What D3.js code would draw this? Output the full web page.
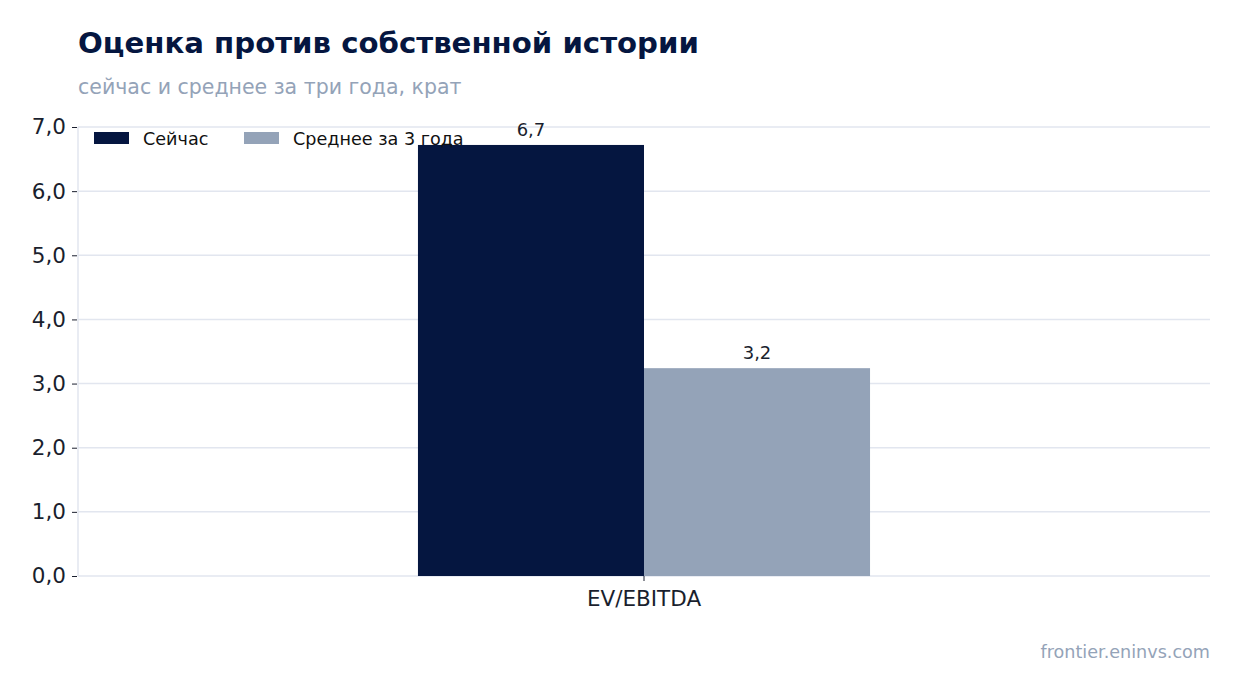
<!DOCTYPE html>
<html><head><meta charset="utf-8">
<script src="https://cdn.jsdelivr.net/npm/d3@7"></script>
<style>html,body{margin:0;padding:0;background:#fff;}svg{display:block;font-family:"DejaVu Sans",sans-serif;}</style>
</head><body>
<script>
const categories = ["EV/EBITDA"];
const seriesNames = ["Сейчас", "Среднее за 3 года"];
const nowValues = [6.72];
const avgValues = [3.24];
const yTicks = [0, 1, 2, 3, 4, 5, 6, 7];
const colors = ["#051640", "#94a3b8"];

const W = 1240, H = 693;
const m = {l: 78, r: 30, t: 127, b: 117};
const svg = d3.select("body").append("svg").attr("width", W).attr("height", H);

const x = d3.scaleBand().domain(categories).range([m.l, W - m.r]).paddingInner(0).paddingOuter(0.752);
const y = d3.scaleLinear().domain([0, 7]).range([H - m.b, m.t]);
const fmt = v => d3.format(".1f")(v).replace(".", ",");

// grid
svg.append("g").selectAll("line").data(yTicks).join("line")
  .attr("x1", m.l).attr("x2", W - m.r).attr("y1", d => y(d)).attr("y2", d => y(d))
  .attr("stroke", "#e2e6ef").attr("stroke-width", 1.5);
// left spine
svg.append("line").attr("x1", m.l).attr("x2", m.l).attr("y1", m.t).attr("y2", H - m.b)
  .attr("stroke", "#e2e6ef").attr("stroke-width", 1.5);

const inner = d3.scaleBand().domain(seriesNames).range([0, x.bandwidth()]);
const data = categories.flatMap((c, i) => [
  {c, s: seriesNames[0], v: nowValues[i], col: colors[0]},
  {c, s: seriesNames[1], v: avgValues[i], col: colors[1]}
]);
svg.append("g").selectAll("rect").data(data).join("rect")
  .attr("x", d => x(d.c) + inner(d.s)).attr("width", inner.bandwidth())
  .attr("y", d => y(d.v)).attr("height", d => y(0) - y(d.v)).attr("fill", d => d.col);
svg.append("g").selectAll("text").data(data).join("text")
  .attr("x", d => x(d.c) + inner(d.s) + inner.bandwidth() / 2).attr("y", d => y(d.v) - 9)
  .attr("text-anchor", "middle").attr("font-size", 18).attr("fill", "#1a1f2e").text(d => fmt(d.v));

// y axis
const ya = svg.append("g").attr("transform", `translate(${m.l - 1},0)`)
  .call(d3.axisLeft(y).tickValues(yTicks).tickFormat(fmt).tickSize(5).tickPadding(6));
ya.select(".domain").remove();
ya.selectAll("line").attr("stroke", "#1a1f2e");
ya.selectAll("text").attr("font-size", 21.5).attr("fill", "#1a1f2e").attr("font-family", "DejaVu Sans");

// x axis
const xa = svg.append("g").attr("transform", `translate(0,${H - m.b})`)
  .call(d3.axisBottom(x).tickSize(5).tickPadding(10));
xa.select(".domain").remove();
xa.selectAll("line").attr("stroke", "#1a1f2e");
xa.selectAll("text").attr("font-size", 21.5).attr("fill", "#1a1f2e").attr("font-family", "DejaVu Sans");

// legend
const lg = svg.append("g");
const lx = [94, 244];
seriesNames.forEach((s, i) => {
  lg.append("rect").attr("x", lx[i]).attr("y", 132).attr("width", 35).attr("height", 12).attr("fill", colors[i]);
  lg.append("text").attr("x", lx[i] + 49).attr("y", 144.5).attr("font-size", 17.6).attr("fill", "#111").text(s);
});

// titles
svg.append("text").attr("x", 78).attr("y", 53).attr("font-size", 29.2).attr("font-weight", "bold")
  .attr("fill", "#051640").text("Оценка против собственной истории");
svg.append("text").attr("x", 78).attr("y", 94).attr("font-size", 20.5)
  .attr("fill", "#94a3b8").text("сейчас и среднее за три года, крат");
svg.append("text").attr("x", 1210).attr("y", 658).attr("font-size", 17.6).attr("text-anchor", "end")
  .attr("fill", "#94a3b8").text("frontier.eninvs.com");
</script>
</body></html>
